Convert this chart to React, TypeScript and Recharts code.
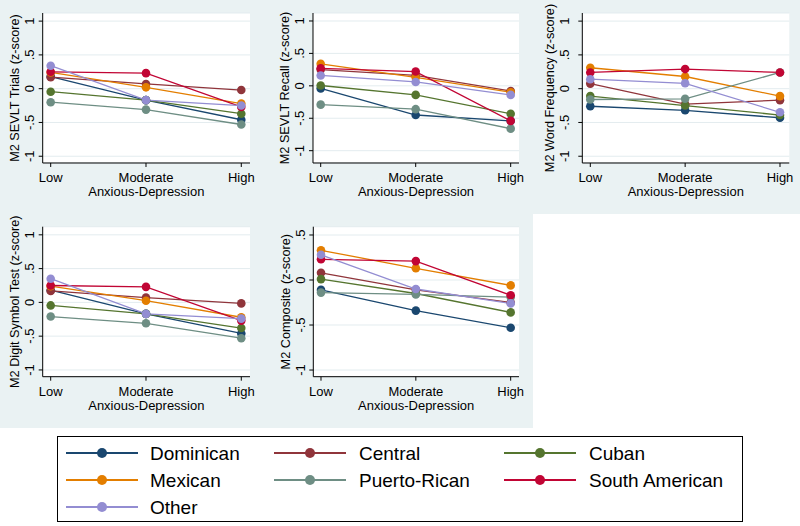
import React from 'react';
import { LineChart, Line, XAxis, YAxis, CartesianGrid, Label } from 'recharts';

// ---------- data ----------
const categories = ['Low', 'Moderate', 'High'];
const groups = ['Dominican', 'Central', 'Cuban', 'Mexican', 'Puerto-Rican', 'South American', 'Other'];
const groupColors = ['#1a476f', '#90353b', '#55752f', '#e37e00', '#6e8e84', '#c10534', '#938dd2'];

// values per group (order as in `groups`), per category (Low, Moderate, High)
const sevltTrials = [
  [0.18, -0.17, -0.46],
  [0.17, 0.07, -0.02],
  [-0.045, -0.17, -0.37],
  [0.24, 0.02, -0.22],
  [-0.2, -0.31, -0.53],
  [0.25, 0.23, -0.27],
  [0.34, -0.17, -0.25],
];
const sevltRecall = [
  [-0.04, -0.45, -0.54],
  [0.25, 0.16, -0.08],
  [0.005, -0.14, -0.43],
  [0.34, 0.13, -0.1],
  [-0.29, -0.36, -0.66],
  [0.27, 0.22, -0.54],
  [0.16, 0.06, -0.14],
];
const wordFrequency = [
  [-0.26, -0.32, -0.43],
  [0.075, -0.23, -0.17],
  [-0.11, -0.25, -0.39],
  [0.31, 0.18, -0.11],
  [-0.16, -0.15, 0.24],
  [0.24, 0.29, 0.24],
  [0.14, 0.08, -0.35],
];
const digitSymbol = [
  [0.18, -0.17, -0.46],
  [0.17, 0.07, -0.015],
  [-0.045, -0.17, -0.38],
  [0.24, 0.025, -0.22],
  [-0.21, -0.31, -0.53],
  [0.25, 0.23, -0.27],
  [0.35, -0.17, -0.24],
];
const composite = [
  [-0.11, -0.34, -0.53],
  [0.08, -0.11, -0.25],
  [0.01, -0.15, -0.36],
  [0.33, 0.13, -0.06],
  [-0.14, -0.16, -0.19],
  [0.23, 0.21, -0.17],
  [0.28, -0.1, -0.26],
];

const yTicksFull = [-1, -0.5, 0, 0.5, 1];
const yTicksComposite = [-1, -0.5, 0, 0.5];
const xTitle = 'Anxious-Depression';

// ---------- layout ----------
const FONT = '"Liberation Sans", Arial, Helvetica, sans-serif';
const BG = '#eaf2f3';
const PW = 266.67;
const PH = 214;

type PanelCfg = {
  title: string;
  values: number[][];
  x0: number;
  y0: number;
  axisX: number;
  titleX: number;
  tickOff: number;
  plotTop: number;
  plotBottom: number;
  plotRight: number;
  domain: [number, number];
  ticks: number[];
  padL: number;
  padR: number;
};

const panels: PanelCfg[] = [
  { title: 'M2 SEVLT Trials (z-score)', values: sevltTrials, x0: 0, y0: 0, axisX: 42.7, titleX: 15, tickOff: 8.5, plotTop: 13, plotBottom: 163, plotRight: 250, domain: [-1.1, 1.12], ticks: yTicksFull, padL: 8, padR: 8.7 },
  { title: 'M2 SEVLT Recall (z-score)', values: sevltRecall, x0: PW, y0: 0, axisX: 46, titleX: 18, tickOff: 8.5, plotTop: 13, plotBottom: 163, plotRight: 252, domain: [-1.19, 1.123], ticks: yTicksFull, padL: 7.7, padR: 8.3 },
  { title: 'M2 Word Frequency (z-score)', values: wordFrequency, x0: PW * 2, y0: 0, axisX: 49.3, titleX: 16.7, tickOff: 13, plotTop: 13, plotBottom: 163, plotRight: 256.3, domain: [-1.1, 1.12], ticks: yTicksFull, padL: 8, padR: 9.3 },
  { title: 'M2 Digit Symbol Test (z-score)', values: digitSymbol, x0: 0, y0: PH, axisX: 42.7, titleX: 15, tickOff: 8.5, plotTop: 12.7, plotBottom: 162.7, plotRight: 250, domain: [-1.1, 1.12], ticks: yTicksFull, padL: 8, padR: 8.7 },
  { title: 'M2 Composite (z-score)', values: composite, x0: PW, y0: PH, axisX: 46.3, titleX: 18.7, tickOff: 8.5, plotTop: 12.7, plotBottom: 162.7, plotRight: 252, domain: [-1.074, 0.592], ticks: yTicksComposite, padL: 7.7, padR: 8.3 },
];

const fmtTick = (v: number) => (v === 0 ? '0' : String(v).replace('0.', '.'));

function buildRows(values: number[][]) {
  return categories.map((c, ci) => {
    const row: Record<string, string | number> = { level: c };
    groups.forEach((g, gi) => {
      row[g] = values[gi][ci];
    });
    return row;
  });
}

function Panel({ cfg }: { cfg: PanelCfg }) {
  const data = buildRows(cfg.values);
  const midY = (cfg.plotTop + cfg.plotBottom) / 2;
  const midX = (cfg.axisX + cfg.plotRight) / 2;
  return (
    <div style={{ position: 'absolute', left: cfg.x0, top: cfg.y0, width: PW, height: PH }}>
      <LineChart
        width={PW}
        height={PH}
        data={data}
        margin={{ top: cfg.plotTop, right: PW - cfg.plotRight, bottom: 0, left: 0 }}
      >
        <CartesianGrid vertical={false} horizontal stroke="#e3ecef" strokeWidth={1} fill="#ffffff" fillOpacity={1} />
        <XAxis
          dataKey="level"
          height={PH - cfg.plotBottom}
          padding={{ left: cfg.padL, right: cfg.padR }}
          axisLine={{ stroke: '#000', strokeWidth: 1 }}
          tickLine={{ stroke: '#000', strokeWidth: 1 }}
          tickSize={4}
          interval={0}
          tick={(p: any) => (
            <text x={p.x} y={cfg.plotBottom + 19.5} textAnchor="middle" fontSize={13} fontFamily={FONT} fill="#000">
              {p.payload.value}
            </text>
          )}
        >
          <Label
            content={() => (
              <text x={midX} y={cfg.plotBottom + 33.5} textAnchor="middle" fontSize={13} fontFamily={FONT} fill="#000">
                {xTitle}
              </text>
            )}
          />
        </XAxis>
        <YAxis
          type="number"
          width={cfg.axisX}
          domain={cfg.domain}
          ticks={cfg.ticks}
          interval={0}
          allowDataOverflow
          axisLine={{ stroke: '#000', strokeWidth: 1 }}
          tickLine={{ stroke: '#000', strokeWidth: 1 }}
          tickSize={4}
          tick={(p: any) => {
            const bx = cfg.axisX - cfg.tickOff;
            return (
              <text
                x={bx}
                y={p.y}
                transform={`rotate(-90 ${bx} ${p.y})`}
                textAnchor="middle"
                fontSize={13}
                fontFamily={FONT}
                fill="#000"
              >
                {fmtTick(p.payload.value)}
              </text>
            );
          }}
        >
          <Label
            content={() => {
              const bx = cfg.titleX + 4.5;
              return (
                <text
                  x={bx}
                  y={midY}
                  transform={`rotate(-90 ${bx} ${midY})`}
                  textAnchor="middle"
                  fontSize={12.7}
                  fontFamily={FONT}
                  fill="#000"
                >
                  {cfg.title}
                </text>
              );
            }}
          />
        </YAxis>
        {groups.map((g, gi) => (
          <Line
            key={g}
            type="linear"
            dataKey={g}
            stroke={groupColors[gi]}
            strokeWidth={1.3}
            dot={{ r: 4.3, fill: groupColors[gi], stroke: groupColors[gi], strokeWidth: 0 }}
            activeDot={false}
            isAnimationActive={false}
          />
        ))}
      </LineChart>
    </div>
  );
}

const legendRows = [453, 480, 507];
const legendLineX = [66, 274, 504];
const legendTextX = [150, 359, 589];

function LegendBox() {
  return (
    <svg width={800} height={526} style={{ position: 'absolute', left: 0, top: 0, pointerEvents: 'none' }}>
      <rect x={57.5} y={436.5} width={685} height={85} fill="#fff" stroke="#000" strokeWidth={1} />
      {groups.map((g, i) => {
        const row = Math.floor(i / 3);
        const col = i % 3;
        const cy = legendRows[row];
        const lx = legendLineX[col];
        return (
          <g key={g}>
            <line x1={lx} x2={lx + 72} y1={cy} y2={cy} stroke={groupColors[i]} strokeWidth={2} />
            <circle cx={lx + 36} cy={cy} r={5} fill={groupColors[i]} />
            <text x={legendTextX[col]} y={cy + 6.8} fontSize={19} fontFamily={FONT} fill="#000">
              {g}
            </text>
          </g>
        );
      })}
    </svg>
  );
}

export default function App() {
  return (
    <div style={{ position: 'absolute', left: 0, top: 0, width: 800, height: 526, background: '#fff', overflow: 'hidden' }}>
      <div style={{ position: 'absolute', left: 0, top: 0, width: 800, height: PH, background: BG }} />
      <div style={{ position: 'absolute', left: 0, top: PH, width: PW * 2, height: PH, background: BG }} />
      {panels.map((p) => (
        <Panel key={p.title} cfg={p} />
      ))}
      <LegendBox />
    </div>
  );
}
